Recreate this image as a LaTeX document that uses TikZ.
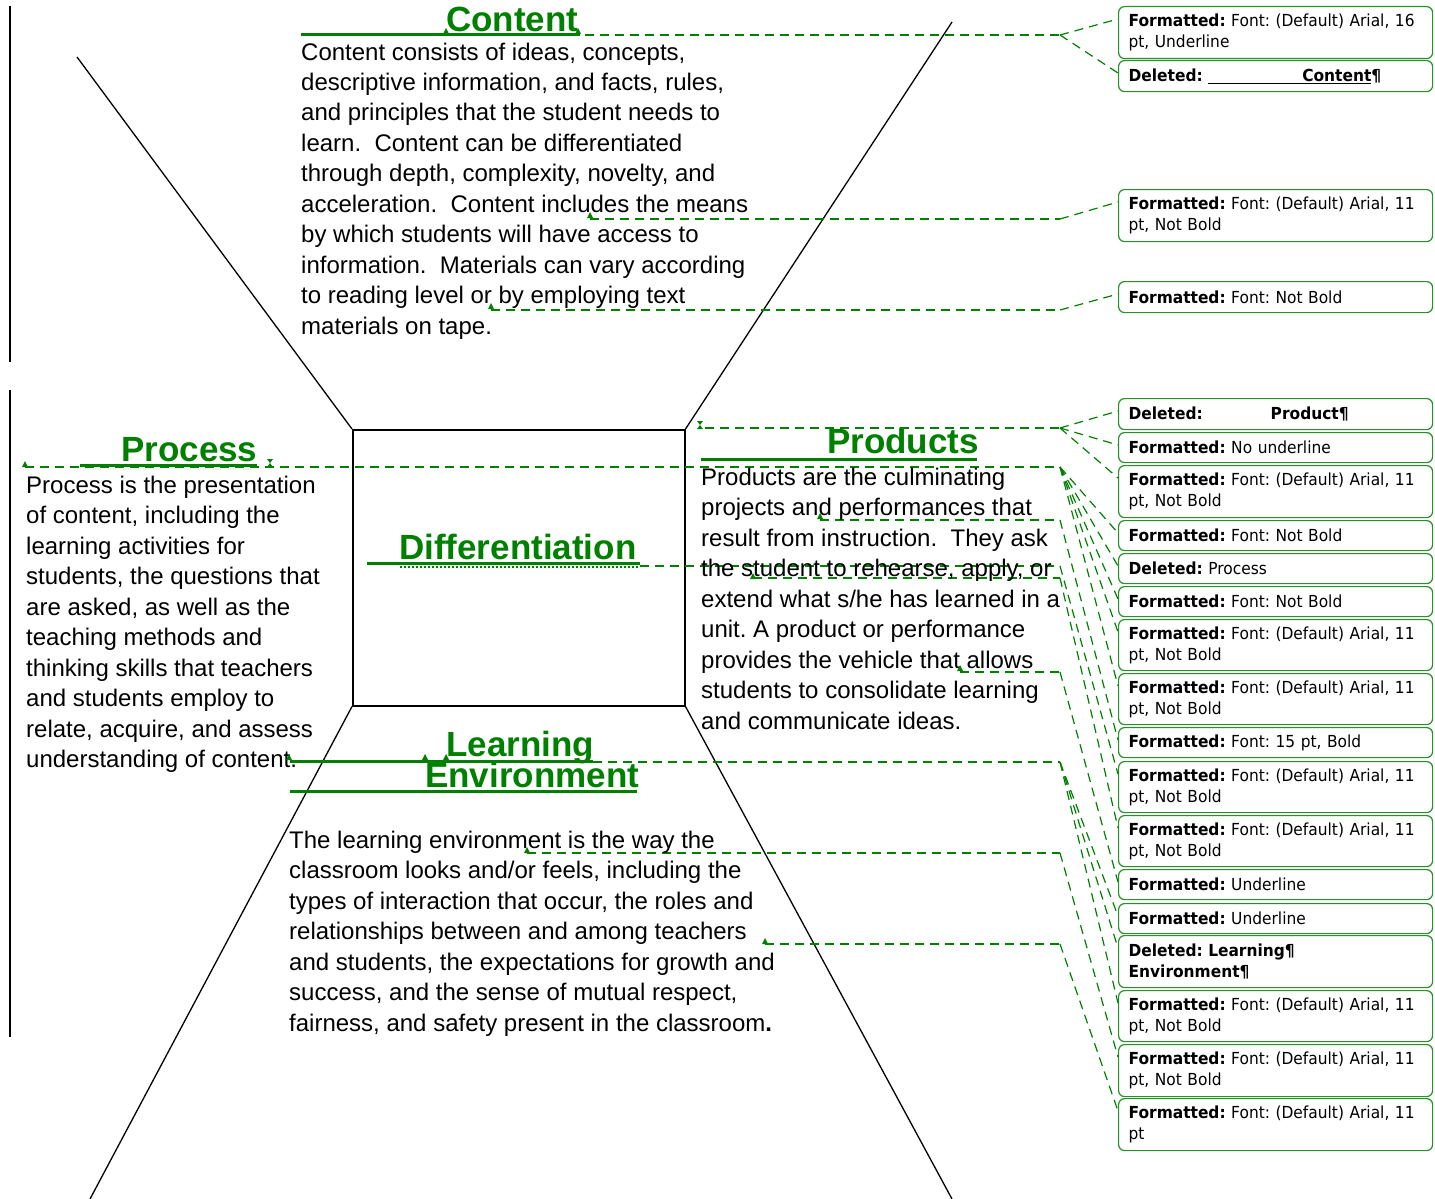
\documentclass[tikz,border=0pt]{standalone}
\usepackage{fontspec}
\setmainfont{Liberation Sans}
\newfontfamily\notefont[FakeStretch=0.93]{DejaVu Sans}
\definecolor{trk}{RGB}{0,128,0}
% small change marks
\newcommand{\caretmark}[2]{\fill[trk] (#1-3,#2+1) -- (#1+3,#2+1) -- (#1,#2-5) -- cycle;}
\newcommand{\tiemark}[2]{\fill[trk] (#1-3,#2-4) -- (#1+3,#2-4) -- (#1-3,#2+4) -- (#1+3,#2+4) -- cycle;}
\tikzset{
  frame/.style={draw=black, line width=1.3pt},
  chg/.style={draw=trk, line width=1.2pt, dash pattern=on 9pt off 6pt},
  uline/.style={draw=trk, line width=3pt},
  body/.style={anchor=base west, inner sep=0pt, font=\fontsize{24}{30.5}\selectfont},
  ttl/.style={anchor=base west, inner sep=0pt, text=trk, font=\bfseries\fontsize{35}{35}\selectfont},
  cbox/.style={draw=trk!85!white, fill=white, line width=1.2pt, rounded corners=6pt, anchor=north west,
    minimum width=314pt, text width=294pt, inner xsep=10pt, inner ysep=0pt, align=left,
    font=\notefont\fontsize{16.6}{21}\selectfont},
  one/.style={minimum height=31pt},
  two/.style={minimum height=52pt}
}
\begin{document}
\frenchspacing
\begin{tikzpicture}[x=1pt, y=-1pt]
\useasboundingbox (0,0) rectangle (1435,1199);

% margin bars
\draw[black, line width=2pt] (10,6) -- (10,362);
\draw[black, line width=2pt] (10,390) -- (10,1037);

% central square and the four diagonals
\node[frame, line width=1.5pt, minimum width=332pt, minimum height=276pt, inner sep=0pt, anchor=north west] (sq) at (352,429) {};
\coordinate (tl) at (77,57);
\coordinate (tr) at (952,22);
\coordinate (bl) at (90,1199);
\coordinate (br) at (952,1199);
\draw[frame] (tl) -- (sq.north west);
\draw[frame] (tr) -- (sq.north east);
\draw[frame] (bl) -- (sq.south west);
\draw[frame] (br) -- (sq.south east);

% comment balloons
\node[cbox, two] (b1) at (1118,6) {\textbf{Formatted:} Font: (Default) Arial, 16\\pt, Underline};
\node[cbox, one] (b2) at (1118,60) {\textbf{Deleted:}\ \textbf{\underline{\hspace*{94pt}Content}¶}};
\node[cbox, two] (b3) at (1118,189) {\textbf{Formatted:} Font: (Default) Arial, 11\\pt, Not Bold};
\node[cbox, one] (b4) at (1118,281) {\textbf{Formatted:} Font: Not Bold};
\node[cbox, one] (b5) at (1118,398) {\textbf{Deleted:}\hspace*{68pt}\textbf{Product¶}};
\node[cbox, one, minimum height=30pt] (b6) at (1118,432) {\textbf{Formatted:} No underline};
\node[cbox, two] (b7) at (1118,465) {\textbf{Formatted:} Font: (Default) Arial, 11\\pt, Not Bold};
\node[cbox, one, minimum height=30pt] (b8) at (1118,520) {\textbf{Formatted:} Font: Not Bold};
\node[cbox, one, minimum height=30pt] (b9) at (1118,553) {\textbf{Deleted:} Process};
\node[cbox, one, minimum height=30pt] (b10) at (1118,586) {\textbf{Formatted:} Font: Not Bold};
\node[cbox, two, minimum height=51pt] (b11) at (1118,619) {\textbf{Formatted:} Font: (Default) Arial, 11\\pt, Not Bold};
\node[cbox, two, minimum height=51pt] (b12) at (1118,673) {\textbf{Formatted:} Font: (Default) Arial, 11\\pt, Not Bold};
\node[cbox, one, minimum height=30pt] (b13) at (1118,727) {\textbf{Formatted:} Font: 15 pt, Bold};
\node[cbox, two, minimum height=51pt] (b14) at (1118,761) {\textbf{Formatted:} Font: (Default) Arial, 11\\pt, Not Bold};
\node[cbox, two, minimum height=51pt] (b15) at (1118,815) {\textbf{Formatted:} Font: (Default) Arial, 11\\pt, Not Bold};
\node[cbox, one, minimum height=30pt] (b16) at (1118,869) {\textbf{Formatted:} Underline};
\node[cbox, one, minimum height=30pt] (b17) at (1118,903) {\textbf{Formatted:} Underline};
\node[cbox, two] (b18) at (1118,935) {\textbf{Deleted: Learning¶}\\\textbf{Environment¶}};
\node[cbox, two, minimum height=51pt] (b19) at (1118,990) {\textbf{Formatted:} Font: (Default) Arial, 11\\pt, Not Bold};
\node[cbox, two] (b20) at (1118,1044) {\textbf{Formatted:} Font: (Default) Arial, 11\\pt, Not Bold};
\node[cbox, two] (b21) at (1118,1098) {\textbf{Formatted:} Font: (Default) Arial, 11\\pt};

% change-tracking leaders: start, elbow, then to the balloon
\foreach \n/\sx/\yy in {1/585/35, 2/590/219, 3/491/310, 4/705/428, 5/25/467, 6/820/520,
                        7/640/566, 8/753/578, 9/960/672, 10/593/762, 11/527/853, 12/765/944}{
  \coordinate (s\n) at (\sx,\yy);
  \coordinate (e\n) at (1060,\yy);
  \draw[chg] (s\n) -- (e\n);
}
\foreach \n/\bb in {1/b1, 1/b2, 2/b3, 3/b4, 4/b5, 4/b6, 4/b7,
                    5/b8, 5/b9, 5/b10, 5/b11, 5/b12, 6/b13, 7/b14, 8/b15, 9/b16,
                    10/b17, 10/b18, 10/b19, 11/b20, 12/b21}{
  \draw[chg] (e\n) -- ([yshift=-13pt]\bb.north west);
}

% Content
\node[ttl] (tcontent) at (446,31.5) {Content};
\draw[uline] (301,35) -- (580,35);
\node[body] (content) at (301,60) {\parbox[t]{520pt}{%
Content consists of ideas, concepts,\\
descriptive information, and facts, rules,\\
and principles that the student needs to\\
learn.\ \ Content can be differentiated\\
through depth, complexity, novelty, and\\
acceleration.\ \ Content includes the means\\
by which students will have access to\\
information.\ \ Materials can vary according\\
to reading level or by employing text\\
materials on tape.}};

% Process
\node[ttl] (tprocess) at (121,461.5) {Process};
\draw[uline] (80,465) -- (257,465);
\node[body] (process) at (26,493) {\parbox[t]{400pt}{%
Process is the presentation\\
of content, including the\\
learning activities for\\
students, the questions that\\
are asked, as well as the\\
teaching methods and\\
thinking skills that teachers\\
and students employ to\\
relate, acquire, and assess\\
understanding of content.}};

% Products
\node[ttl] (tproducts) at (827,453.5) {Products};
\draw[uline] (701,459) -- (977,459);
\node[body] (products) at (701,485) {\parbox[t]{420pt}{%
Products are the culminating\\
projects and performances that\\
result from instruction.\ \ They ask\\
the student to rehearse, apply, or\\
extend what s/he has learned in a\\
unit. A product or performance\\
provides the vehicle that allows\\
students to consolidate learning\\
and communicate ideas.}};

% Differentiation
\node[ttl] (tdiff) at (399,559.5) {Differentiation};
\draw[uline] (367,563) -- (640,563);
\draw[trk, line width=2pt, dash pattern=on 2pt off 2pt] (400,566.5) -- (640,566.5);

% Learning Environment
\node[ttl] (tlearn) at (446,756) {Learning};
\node[ttl] (tenv) at (425,787.5) {Environment};
\draw[uline] (290,761.5) -- (593,761.5);
\draw[uline] (290,791) -- (637,791);
\node[body] (learn) at (289,848) {\parbox[t]{540pt}{%
The learning environment is the way the\\
classroom looks and/or feels, including the\\
types of interaction that occur, the roles and\\
relationships between and among teachers\\
and students, the expectations for growth and\\
success, and the sense of mutual respect,\\
fairness, and safety present in the classroom\textbf{.}}};

% insertion marks
\caretmark{446}{33}
\caretmark{578}{33}
\caretmark{590}{217}
\caretmark{491}{308}
\caretmark{25}{466}
\tiemark{270}{463}
\tiemark{700}{425}
\caretmark{820}{518}
\caretmark{753}{578}
\caretmark{960}{670}
\caretmark{289}{759}
\caretmark{425}{759}
\caretmark{446}{759}
\caretmark{527}{852}
\caretmark{765}{943}
\end{tikzpicture}
\end{document}
